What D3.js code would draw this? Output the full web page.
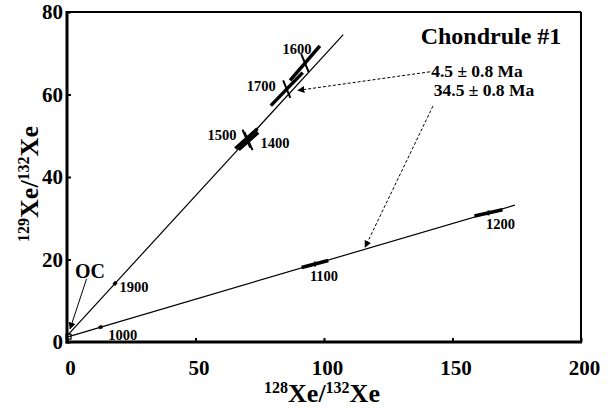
<!DOCTYPE html>
<html>
<head>
<meta charset="utf-8">
<script src="https://cdn.jsdelivr.net/npm/d3@7"></script>
<style>
  body { margin: 0; background: #fff; }
  svg text { font-family: "Liberation Serif", "Times New Roman", Times, serif !important; font-weight: bold; fill: #000; }
</style>
</head>
<body>
<svg id="chart"></svg>
<script>
// tick values
var xTicks = [0, 50, 100, 150, 200];
var yTicks = [0, 20, 40, 60, 80];

// isochron lines (start and end points)
var upperIsoX = [0, 107.5], upperIsoY = [1.5, 74.5];
var lowerIsoX = [0, 174.3], lowerIsoY = [1.2, 33.2];

// temperature steps on the upper line
var upperSteps = [1400, 1500, 1600, 1700, 1900];
var upperX = [70.6, 69.8, 92.6, 85.5, 18.7];
var upperY = [48.7, 49.3, 67.6, 61.3, 14.2];
var upperErrAX = [3.8, 4.3, 5.8, 6.2, 0.5];
var upperErrAY = [2.1, 2.4, 4.2, 4.0, 0.35];
var upperErrBX = [1.6, 1.5, 1.45, 1.4, 0];
var upperErrBY = [-2.2, -2.2, -2.2, -2.1, 0];

// temperature steps on the lower line
var lowerSteps = [1000, 1100, 1200];
var lowerX = [13.1, 96.5, 164.0];
var lowerY = [3.6, 18.9, 31.3];
var lowerErrAX = [0.7, 5.2, 5.45];
var lowerErrAY = [0.13, 0.85, 0.75];
var lowerErrBX = [0, 0, 0];
var lowerErrBY = [0, 0.6, 0.6];

var ages = ["4.5 \u00b1 0.8 Ma", "34.5 \u00b1 0.8 Ma"];

var W = 611, H = 409;
var FONT = "'Liberation Serif', 'Times New Roman', Times, serif";
var svg = d3.select("#chart").attr("width", W).attr("height", H)
    .attr("font-family", FONT).attr("font-weight", "bold");

var x = d3.scaleLinear().domain([0, 200]).range([67, 581]);
var y = d3.scaleLinear().domain([0, 80]).range([342, 12]);

// arrow heads
var defs = svg.append("defs");
defs.append("marker")
    .attr("id", "head")
    .attr("viewBox", "0 0 10 10")
    .attr("refX", 9).attr("refY", 5)
    .attr("markerWidth", 7).attr("markerHeight", 7)
    .attr("markerUnits", "userSpaceOnUse")
    .attr("orient", "auto")
  .append("path")
    .attr("d", "M0,0 L10,5 L0,10 z")
    .attr("fill", "#000");

// axes
var xAxis = svg.append("g")
    .attr("transform", "translate(0," + y(0) + ")")
    .call(d3.axisBottom(x).tickValues(xTicks).tickSize(-4).tickPadding(18));
xAxis.attr("font-family", FONT).attr("font-size", 21);
xAxis.selectAll("text").attr("dx", 3);

var yAxis = svg.append("g")
    .attr("transform", "translate(" + x(0) + ",0)")
    .call(d3.axisLeft(y).tickValues(yTicks).tickSize(-4).tickPadding(4));
yAxis.attr("font-family", FONT).attr("font-size", 21);

svg.selectAll(".domain").remove();
svg.selectAll(".tick line").attr("stroke", "#000").attr("stroke-width", 2);

// frame
svg.append("line").attr("x1", x(0)).attr("x2", x(200)).attr("y1", y(80)).attr("y2", y(80))
    .attr("stroke", "#000").attr("stroke-width", 2);
svg.append("line").attr("x1", x(200)).attr("x2", x(200)).attr("y1", y(80)).attr("y2", y(0))
    .attr("stroke", "#000").attr("stroke-width", 2);
svg.append("line").attr("x1", x(0)).attr("x2", x(0)).attr("y1", y(80) - 1).attr("y2", y(0) + 1.5)
    .attr("stroke", "#000").attr("stroke-width", 3);
svg.append("line").attr("x1", x(0) - 1.5).attr("x2", x(200) + 1).attr("y1", y(0)).attr("y2", y(0))
    .attr("stroke", "#000").attr("stroke-width", 3);

// isochrons
[[upperIsoX, upperIsoY], [lowerIsoX, lowerIsoY]].forEach(function(l) {
  svg.append("line")
      .attr("x1", x(l[0][0])).attr("y1", y(l[1][0]))
      .attr("x2", x(l[0][1])).attr("y2", y(l[1][1]))
      .attr("stroke", "#000").attr("stroke-width", 1.2);
});

// origin marker
svg.append("rect")
    .attr("x", x(0.6) - 2.5).attr("y", y(1.3) - 2.5)
    .attr("width", 5).attr("height", 5)
    .attr("fill", "none").attr("stroke", "#000").attr("stroke-width", 1.2);

function buildPoints(steps, xs, ys, ax, ay, bx, by) {
  return steps.map(function(s, i) {
    return {step: s, x: xs[i], y: ys[i], ax: ax[i], ay: ay[i], bx: bx[i], by: by[i]};
  });
}
var points = buildPoints(upperSteps, upperX, upperY, upperErrAX, upperErrAY, upperErrBX, upperErrBY)
  .concat(buildPoints(lowerSteps, lowerX, lowerY, lowerErrAX, lowerErrAY, lowerErrBX, lowerErrBY));

var pg = svg.append("g");
pg.selectAll("line.major")
    .data(points)
    .enter()
    .append("line")
    .attr("class", "major")
    .attr("x1", function(d) { return x(d.x - d.ax); })
    .attr("y1", function(d) { return y(d.y - d.ay); })
    .attr("x2", function(d) { return x(d.x + d.ax); })
    .attr("y2", function(d) { return y(d.y + d.ay); })
    .attr("stroke", "#000").attr("stroke-width", 3.5);

pg.selectAll("line.minor")
    .data(points.filter(function(d) { return d.bx !== 0 || d.by !== 0; }))
    .enter()
    .append("line")
    .attr("class", "minor")
    .attr("x1", function(d) { return x(d.x - d.bx); })
    .attr("y1", function(d) { return y(d.y - d.by); })
    .attr("x2", function(d) { return x(d.x + d.bx); })
    .attr("y2", function(d) { return y(d.y + d.by); })
    .attr("stroke", "#000").attr("stroke-width", 2);

// step labels, offsets in pixels from the point
var labelPos = {
  1400: [12, 7, "start"], 1500: [-10, 1, "end"], 1600: [-8, -9, "middle"],
  1700: [-11, 2, "end"], 1900: [19, 9, "middle"],
  1000: [22, 13, "middle"], 1100: [9, 17, "middle"], 1200: [12, 16, "middle"]
};
pg.selectAll("text.step")
    .data(points)
    .enter()
    .append("text")
    .attr("class", "step")
    .attr("x", function(d) { return x(d.x) + labelPos[d.step][0]; })
    .attr("y", function(d) { return y(d.y) + labelPos[d.step][1]; })
    .attr("text-anchor", function(d) { return labelPos[d.step][2]; })
    .attr("font-size", 14.5)
    .text(function(d) { return d.step; });

// title and ages
svg.append("text").attr("x", 491).attr("y", 44).attr("text-anchor", "middle")
    .attr("font-size", 24).text("Chondrule #1");
svg.append("text").attr("x", 477).attr("y", 77).attr("text-anchor", "middle")
    .attr("font-size", 17.5).text(ages[0]);
svg.append("text").attr("x", 484).attr("y", 96).attr("text-anchor", "middle")
    .attr("font-size", 17.5).text(ages[1]);

// dashed pointers to the isochrons
var pointers = [[141.2, 65.5, 89.9, 61.0], [142.4, 57.2, 116.0, 23.0]];
pointers.forEach(function(p) {
  svg.append("line")
      .attr("x1", x(p[0])).attr("y1", y(p[1]))
      .attr("x2", x(p[2])).attr("y2", y(p[3]))
      .attr("stroke", "#000").attr("stroke-width", 1)
      .attr("stroke-dasharray", "3,2")
      .attr("marker-end", "url(#head)");
});

// OC label and pointer
svg.append("text").attr("x", 90).attr("y", 278).attr("text-anchor", "middle")
    .attr("font-size", 20).text("OC");
svg.append("line")
    .attr("x1", x(7.6)).attr("y1", y(15.3))
    .attr("x2", x(1.2)).attr("y2", y(3.2))
    .attr("stroke", "#000").attr("stroke-width", 1)
    .attr("marker-end", "url(#head)");

// axis titles
var xt = svg.append("text").attr("x", 322).attr("y", 402).attr("text-anchor", "middle").attr("font-size", 26);
xt.append("tspan").attr("font-size", 16).attr("dy", -9).text("128");
xt.append("tspan").attr("dy", 9).text("Xe/");
xt.append("tspan").attr("font-size", 16).attr("dy", -9).text("132");
xt.append("tspan").attr("dy", 9).text("Xe");

var yt = svg.append("text")
    .attr("transform", "translate(38,184) rotate(-90)")
    .attr("text-anchor", "middle").attr("font-size", 26);
yt.append("tspan").attr("font-size", 16).attr("dy", -9).text("129");
yt.append("tspan").attr("dy", 9).text("Xe/");
yt.append("tspan").attr("font-size", 16).attr("dy", -9).text("132");
yt.append("tspan").attr("dy", 9).text("Xe");
</script>
</body>
</html>
